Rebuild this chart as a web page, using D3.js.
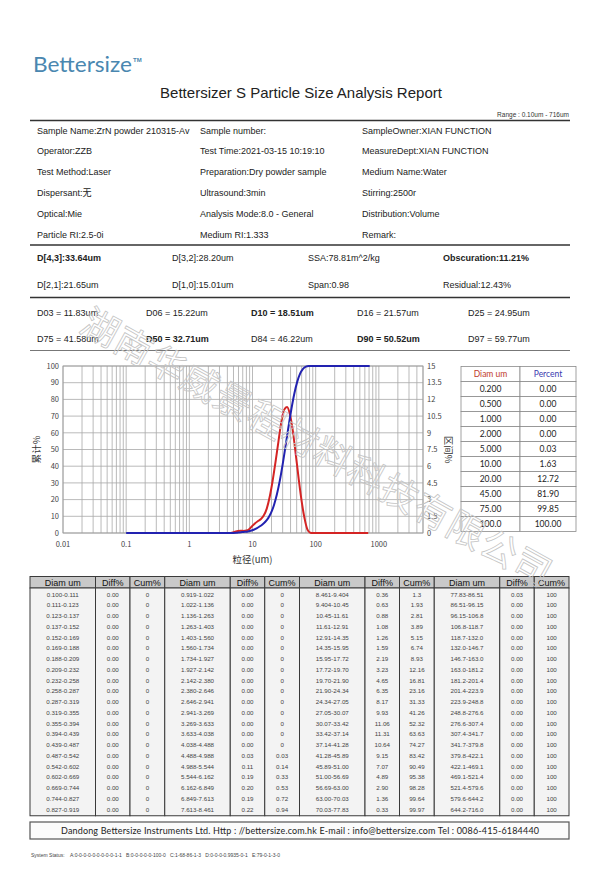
<!DOCTYPE html>
<html><head><meta charset="utf-8">
<script src="https://cdn.jsdelivr.net/npm/d3@7"></script>
<style>body{margin:0;background:#fff}</style>
</head><body><svg id="c" width="600" height="875"></svg>
<script>
// ---------------- DATA ----------------
const infoRows = [
 ["Sample Name:ZrN powder 210315-Av","Sample number:","SampleOwner:XIAN FUNCTION"],
 ["Operator:ZZB","Test Time:2021-03-15 10:19:10","MeasureDept:XIAN FUNCTION"],
 ["Test Method:Laser","Preparation:Dry powder sample","Medium Name:Water"],
 ["Dispersant:无","Ultrasound:3min","Stirring:2500r"],
 ["Optical:Mie","Analysis Mode:8.0 - General","Distribution:Volume"],
 ["Particle RI:2.5-0i","Medium RI:1.333","Remark:"]
];
const statRows = [["D[4,3]:33.64um","D[3,2]:28.20um","SSA:78.81m^2/kg","Obscuration:11.21%"],
                  ["D[2,1]:21.65um","D[1,0]:15.01um","Span:0.98","Residual:12.43%"]];
const statBold = [[true,false,false,true],[false,false,false,false]];
const dRows = [["D03 = 11.83um","D06 = 15.22um","D10 = 18.51um","D16 = 21.57um","D25 = 24.95um"],
               ["D75 = 41.58um","D50 = 32.71um","D84 = 46.22um","D90 = 50.52um","D97 = 59.77um"]];
const dBold = [[false,false,true,false,false],[false,true,false,true,false]];

const diamRanges = [
 "0.100-0.111","0.111-0.123","0.123-0.137","0.137-0.152","0.152-0.169","0.169-0.188","0.188-0.209","0.209-0.232","0.232-0.258","0.258-0.287","0.287-0.319","0.319-0.355","0.355-0.394","0.394-0.439","0.439-0.487","0.487-0.542","0.542-0.602","0.602-0.669","0.669-0.744","0.744-0.827","0.827-0.919",
 "0.919-1.022","1.022-1.136","1.136-1.263","1.263-1.403","1.403-1.560","1.560-1.734","1.734-1.927","1.927-2.142","2.142-2.380","2.380-2.646","2.646-2.941","2.941-3.269","3.269-3.633","3.633-4.038","4.038-4.488","4.488-4.988","4.988-5.544","5.544-6.162","6.162-6.849","6.849-7.613","7.613-8.461",
 "8.461-9.404","9.404-10.45","10.45-11.61","11.61-12.91","12.91-14.35","14.35-15.95","15.95-17.72","17.72-19.70","19.70-21.90","21.90-24.34","24.34-27.05","27.05-30.07","30.07-33.42","33.42-37.14","37.14-41.28","41.28-45.89","45.89-51.00","51.00-56.69","56.69-63.00","63.00-70.03","70.03-77.83",
 "77.83-86.51","86.51-96.15","96.15-106.8","106.8-118.7","118.7-132.0","132.0-146.7","146.7-163.0","163.0-181.2","181.2-201.4","201.4-223.9","223.9-248.8","248.8-276.6","276.6-307.4","307.4-341.7","341.7-379.8","379.8-422.1","422.1-469.1","469.1-521.4","521.4-579.6","579.6-644.2","644.2-716.0"
];
const diffValues = [
 0,0,0,0,0,0,0,0,0,0,0,0,0,0,0,0,0,0,0,0,0,
 0,0,0,0,0,0,0,0,0,0,0,0,0,0,0,0.03,0.11,0.19,0.20,0.19,0.22,
 0.36,0.63,0.88,1.08,1.26,1.59,2.19,3.23,4.65,6.35,8.17,9.93,11.06,11.31,10.64,9.15,7.07,4.89,2.90,1.36,0.33,
 0.03,0,0,0,0,0,0,0,0,0,0,0,0,0,0,0,0,0,0,0,0
];
const cumValues = [
 0,0,0,0,0,0,0,0,0,0,0,0,0,0,0,0,0,0,0,0,0,
 0,0,0,0,0,0,0,0,0,0,0,0,0,0,0,0.03,0.14,0.33,0.53,0.72,0.94,
 1.3,1.93,2.81,3.89,5.15,6.74,8.93,12.16,16.81,23.16,31.33,41.26,52.32,63.63,74.27,83.42,90.49,95.38,98.28,99.64,99.97,
 100,100,100,100,100,100,100,100,100,100,100,100,100,100,100,100,100,100,100,100,100
];
const tableHeaders = ["Diam um","Diff%","Cum%"];

const miniDiam = ["0.200","0.500","1.000","2.000","5.000","10.00","20.00","45.00","75.00","100.0"];
const miniPercent = ["0.00","0.00","0.00","0.00","0.03","1.63","12.72","81.90","99.85","100.00"];

const xMajorTicks = [0.01,0.1,1,10,100,1000];
const xTickLabels = ["0.01","0.1","1","10","100","1000"];
const yLeftTicks = [0,10,20,30,40,50,60,70,80,90,100];
const yRightTicks = [0,1.5,3,4.5,6,7.5,9,10.5,12,13.5,15];
const yRightLabels = ["0","1.5","3","4.5","6","7.5","9","10.5","12","13.5","15"];

const watermark = "湖南华威景程材料科技有限公司";

// ---------------- DRAW ----------------
const svg = d3.select("#c");
const SANS = "'Liberation Sans', Arial, sans-serif";
const CJK = "'Noto Sans CJK SC', 'Noto Sans', sans-serif";
svg.append("rect").attr("width",600).attr("height",875).attr("fill","#fff");

// logo
svg.append("text").attr("x",33).attr("y",72).attr("font-family","Lato, 'Open Sans', sans-serif")
  .attr("font-size",21).attr("fill","#4a87b0").attr("textLength",99).attr("lengthAdjust","spacingAndGlyphs").text("Bettersize");
svg.append("text").attr("x",133).attr("y",62).attr("font-family",SANS).attr("font-size",6).attr("font-weight","bold")
  .attr("fill","#4a87b0").text("TM");

// title
svg.append("text").attr("x",301).attr("y",98).attr("text-anchor","middle").attr("font-family",SANS)
  .attr("font-size",15).attr("fill","#222").text("Bettersizer S Particle Size Analysis Report");
svg.append("text").attr("x",569).attr("y",117).attr("text-anchor","end").attr("font-family",SANS)
  .attr("font-size",6.5).attr("fill","#333").text("Range : 0.10um - 716um");

function hline(y, w, c){ svg.append("line").attr("x1",30).attr("x2",570).attr("y1",y).attr("y2",y).attr("stroke",c).attr("stroke-width",w); }
hline(120.5,1.6,"#333");

const infoX = [37,200,362];
infoRows.forEach((row,i)=>{
  row.forEach((t,j)=>{
    svg.append("text").attr("x",infoX[j]).attr("y",133.5+i*20.8).attr("font-family",SANS+", "+CJK)
      .attr("font-size",9).attr("fill","#222").text(t);
  });
});
hline(245,1.6,"#333");
const statX = [37,172,308,443];
statRows.forEach((row,i)=>{
  row.forEach((t,j)=>{
    svg.append("text").attr("x",statX[j]).attr("y",261+i*27).attr("font-family",SANS)
      .attr("font-size",9).attr("font-weight",statBold[i][j]?"bold":"normal").attr("fill","#222").text(t);
  });
});
hline(297.5,1.6,"#333");
const dX = [37,146,251,357,468];
dRows.forEach((row,i)=>{
  row.forEach((t,j)=>{
    svg.append("text").attr("x",dX[j]).attr("y",316+i*26).attr("font-family",SANS)
      .attr("font-size",9).attr("font-weight",dBold[i][j]?"bold":"normal").attr("fill","#222").text(t);
  });
});
hline(350.5,1,"#777");

// ---------------- CHART ----------------
const pl=63, pr=423, pt=366, pb=533;
const x = d3.scaleLog().domain([0.01,5000]).range([pl,pr]);
const yL = d3.scaleLinear().domain([0,100]).range([pb,pt]);
const yR = d3.scaleLinear().domain([0,15]).range([pb,pt]);
const g = svg.append("g");
const vGrid = [];
xMajorTicks.forEach(d=>{ for(let k=1;k<=9;k++){ const v=d*k; if(v<=5000*1.0001) vGrid.push(v);} });
g.selectAll(".vg").data(vGrid).enter().append("line")
  .attr("x1",d=>x(d)).attr("x2",d=>x(d)).attr("y1",pt).attr("y2",pb)
  .attr("stroke","#a8a8a8").attr("stroke-width",0.8);
g.selectAll(".hg").data(yLeftTicks).enter().append("line")
  .attr("x1",pl).attr("x2",pr).attr("y1",d=>yL(d)).attr("y2",d=>yL(d))
  .attr("stroke","#a8a8a8").attr("stroke-width",0.8);
g.append("rect").attr("x",pl).attr("y",pt).attr("width",pr-pl).attr("height",pb-pt)
  .attr("fill","none").attr("stroke","#999").attr("stroke-width",0.8);

g.selectAll(".xl").data(xMajorTicks).enter().append("text")
  .attr("x",d=>x(d)).attr("y",546.5).attr("text-anchor","middle").attr("font-family",CJK)
  .attr("font-size",7.5).attr("fill","#444").text((d,i)=>xTickLabels[i]);
g.selectAll(".yl").data(yLeftTicks).enter().append("text")
  .attr("x",pl-4).attr("y",d=>yL(d)+2.7).attr("text-anchor","end").attr("font-family",CJK)
  .attr("font-size",7.5).attr("fill","#444").text(d=>d);
g.selectAll(".yr").data(yRightTicks).enter().append("text")
  .attr("x",pr+4).attr("y",d=>yR(d)+2.7).attr("text-anchor","start").attr("font-family",CJK)
  .attr("font-size",7.5).attr("fill","#444").text((d,i)=>yRightLabels[i]);
g.append("text").attr("x",x(10)).attr("y",563).attr("text-anchor","middle").attr("font-family",CJK)
  .attr("font-size",9.5).attr("fill","#333").text("粒径(um)");
g.append("text").attr("transform",`translate(40,${(pt+pb)/2}) rotate(-90)`).attr("text-anchor","middle")
  .attr("font-family",CJK).attr("font-size",9.5).attr("fill","#333").text("累计%");
g.append("text").attr("transform",`translate(445,${(pt+pb)/2}) rotate(90)`).attr("text-anchor","middle")
  .attr("font-family",CJK).attr("font-size",9.5).attr("fill","#333").text("区间%");

const edges = diamRanges.map(s=>s.split("-").map(Number));
const diffPts = edges.map((e,i)=>({x:Math.sqrt(e[0]*e[1]), y:diffValues[i]}));
const cumPts = [{x:edges[0][0], y:0}].concat(edges.map((e,i)=>({x:e[1], y:cumValues[i]})));
const lineR = d3.line().x(d=>x(d.x)).y(d=>yR(d.y)).curve(d3.curveMonotoneX);
const lineL = d3.line().x(d=>x(d.x)).y(d=>yL(d.y)).curve(d3.curveMonotoneX);
g.append("path").attr("d",lineR(diffPts)).attr("fill","none").attr("stroke","#d42424").attr("stroke-width",2);
g.append("path").attr("d",lineL(cumPts)).attr("fill","none").attr("stroke","#2222b0").attr("stroke-width",2);

// mini table
const mtX = [461,520,576], mtTop=366.5, mtRow=15;
const mt = svg.append("g").attr("font-family","Lato, 'Open Sans', sans-serif").attr("font-size",8.5);
for(let r=0;r<=miniDiam.length;r++){
  for(let c=0;c<2;c++){
    mt.append("rect").attr("x",mtX[c]).attr("y",mtTop+r*mtRow).attr("width",mtX[c+1]-mtX[c]).attr("height",mtRow)
      .attr("fill","#fff").attr("stroke","#8a8a8a").attr("stroke-width",0.8);
  }
}
mt.append("text").attr("x",(mtX[0]+mtX[1])/2).attr("y",mtTop+mtRow/2+3).attr("text-anchor","middle").attr("fill","#c0392b").text("Diam um");
mt.append("text").attr("x",(mtX[1]+mtX[2])/2).attr("y",mtTop+mtRow/2+3).attr("text-anchor","middle").attr("fill","#3b3bb0").text("Percent");
miniDiam.forEach((d,i)=>{
  mt.append("text").attr("x",(mtX[0]+mtX[1])/2).attr("y",mtTop+(i+1)*mtRow+mtRow/2+3).attr("text-anchor","middle").attr("fill","#222").text(d);
  mt.append("text").attr("x",(mtX[1]+mtX[2])/2).attr("y",mtTop+(i+1)*mtRow+mtRow/2+3).attr("text-anchor","middle").attr("fill","#222").text(miniPercent[i]);
});

// ---------------- BIG TABLE ----------------
const tTop=576.5, hH=11.5, rH=10.75, nRows=21;
const colW=[65.5,34.5,34.75], gW=134.75;
const tb = svg.append("g").attr("font-family",SANS);
const bodyTop = tTop+hH, bodyH = nRows*rH+2;
for(let gi=0;gi<4;gi++){
  let cx = 30+gi*gW;
  for(let c=0;c<3;c++){
    tb.append("rect").attr("x",cx).attr("y",tTop).attr("width",colW[c]).attr("height",hH)
      .attr("fill","#c9c9c9").attr("stroke","#3a3a3a").attr("stroke-width",1);
    tb.append("text").attr("x",cx+colW[c]/2).attr("y",tTop+hH/2+3.3).attr("text-anchor","middle")
      .attr("font-size",9).attr("fill","#111").text(tableHeaders[c]);
    tb.append("rect").attr("x",cx).attr("y",bodyTop).attr("width",colW[c]).attr("height",bodyH)
      .attr("fill","#f3f3f3").attr("stroke","#3a3a3a").attr("stroke-width",1);
    for(let r=0;r<nRows;r++){
      const idx = gi*nRows+r;
      const txt = c===0 ? diamRanges[idx] : c===1 ? diffValues[idx].toFixed(2) : String(cumValues[idx]);
      tb.append("text").attr("x",cx+colW[c]/2).attr("y",bodyTop+1+r*rH+rH/2+2.2).attr("text-anchor","middle")
        .attr("font-size",6.2).attr("fill","#444").text(txt);
    }
    cx += colW[c];
  }
}

// footer
svg.append("rect").attr("x",30).attr("y",822).attr("width",539).attr("height",17)
  .attr("fill","#fbfbfb").attr("stroke","#555").attr("stroke-width",1.2);
svg.append("text").attr("x",300).attr("y",834).attr("text-anchor","middle").attr("font-family","Lato, 'Open Sans', sans-serif")
  .attr("font-size",9).attr("fill","#222").attr("textLength",478).attr("lengthAdjust","spacing")
  .text("Dandong Bettersize Instruments Ltd.   Http : //bettersize.com.hk   E-mail : info@bettersize.com   Tel : 0086-415-6184440");
svg.append("text").attr("x",31).attr("y",857).attr("font-family",SANS).attr("font-size",5).attr("fill","#444")
  .attr("xml:space","preserve")
  .text("System Status:    A:0-0-0-0-0-0-0-0-0-1-1   B:0-0-0-0-0-100-0   C:1-68-86-1-3   D:0-0-0-0.9935-0-1   E:79-0-1-3-0");

// watermark
svg.append("text").attr("transform","translate(84,319) rotate(29)").attr("dy","0.35em")
  .attr("font-family",CJK).attr("font-size",37).attr("letter-spacing",1).attr("fill","none").attr("stroke","#c4c4c4")
  .attr("stroke-width",0.8).text(watermark);
</script></body></html>
